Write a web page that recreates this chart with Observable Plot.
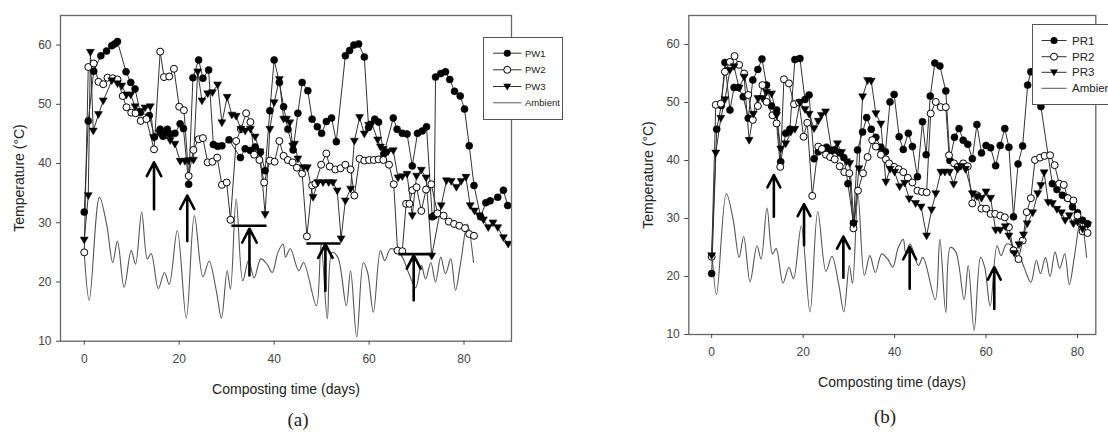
<!DOCTYPE html>
<html><head><meta charset="utf-8">
<script src="https://cdn.jsdelivr.net/npm/d3@7"></script>
<script src="https://cdn.jsdelivr.net/npm/@observablehq/plot@0.6"></script>
<style>
body{margin:0;background:#fff;}
#root{position:relative;width:1108px;height:432px;overflow:hidden;font-family:"Liberation Sans",Arial,sans-serif;color:#222;}
.abs{position:absolute;white-space:nowrap;}
.ttl{font-size:14px;transform:translate(-50%,-50%);}
.ytl{font-size:14px;transform:translate(-50%,-50%) rotate(-90deg);}
.cap{font-family:"Liberation Serif","DejaVu Serif",serif;font-size:19px;transform:translate(-50%,-50%);}
.leg{background:#fff;border:1px solid #555;box-sizing:border-box;}
</style></head><body><div id="root"></div>
<script>
// ---------- data (day, °C) ----------
const ambient = [[0,25.0],[1.06,16.9],[3.2,34.3],[4.7,29.8],[6.0,23.3],[7.0,26.9],[8.4,19.1],[9.9,25.3],[10.8,23.0],[12.1,31.8],[13.3,23.9],[14.1,24.8],[15.6,18.9],[16.9,21.6],[17.9,19.6],[19.6,28.7],[21.5,13.9],[23.2,31.2],[25.0,20.9],[26.3,23.5],[27.8,18.6],[28.9,13.9],[30.1,21.9],[30.8,18.8],[32.0,34.0],[33.4,20.2],[34.6,23.6],[35.8,20.7],[37.2,23.9],[38.5,23.0],[39.6,21.6],[40.8,25.0],[41.9,26.4],[42.4,24.2],[43.4,25.6],[45.2,21.9],[46.2,23.3],[48.9,16.0],[49.9,26.4],[51.2,13.8],[52.2,25.0],[53.4,24.2],[55.2,16.0],[56.1,21.9],[57.4,10.7],[58.8,23.3],[59.7,21.6],[60.9,14.9],[62.4,25.3],[63.3,23.6],[64.5,25.6],[65.8,25.3],[67.0,24.2],[68.4,21.4],[69.8,19.0],[71.0,22.8],[71.9,20.5],[73.0,23.3],[74.0,20.0],[75.1,24.2],[76.1,21.4],[77.2,23.9],[78.2,18.6],[79.3,23.3],[80.7,29.8],[82.0,23.3]];

const pw1 = [[0,31.8],[0.85,47.2],[2.0,55.6],[3.5,58.2],[4.7,59.0],[5.8,59.9],[6.4,60.2],[7.0,60.6],[8.8,55.5],[9.8,53.7],[10.7,52.6],[11.8,48.6],[13.7,48.1],[14.8,44.5],[16.0,45.8],[16.6,44.6],[17.5,45.8],[18.1,45.0],[19.1,45.1],[20.2,46.7],[20.9,45.9],[22.0,36.5],[22.9,54.5],[24.1,57.5],[25.0,54.4],[26.2,55.8],[27.2,43.2],[28.1,42.9],[29.0,43.0],[30.5,44.0],[32.9,41.0],[33.9,42.5],[35.0,42.2],[36.0,42.8],[37.1,41.9],[38.1,38.8],[39.1,48.9],[40.0,57.5],[41.1,53.7],[42.0,49.6],[42.9,45.8],[44.0,42.3],[45.0,48.5],[45.9,53.7],[47.1,52.3],[48.0,47.5],[49.1,46.2],[50.0,45.1],[51.0,47.1],[52.1,47.7],[53.1,43.7],[55.0,58.2],[55.9,59.1],[56.8,60.0],[57.8,60.2],[59.0,58.0],[59.9,46.1],[61.2,47.5],[62.0,47.0],[63.1,41.6],[65.1,47.7],[65.9,45.8],[67.0,45.1],[68.0,45.0],[69.1,39.6],[70.2,45.1],[71.2,45.5],[72.1,46.2],[73.3,31.0],[73.7,31.2],[74.0,54.6],[75.1,55.2],[76.1,55.5],[77.0,54.2],[78.0,52.2],[79.2,51.4],[80.1,49.2],[81.1,43.0],[82.1,36.3],[83.5,31.0],[84.6,33.4],[85.5,33.7],[87.1,34.3],[88.3,35.5],[89.2,32.9]];

const pw2 = [[0,25.0],[0.85,56.3],[2.0,56.9],[3.0,53.8],[4.0,53.4],[4.9,54.5],[6.0,54.4],[7.0,54.2],[8.1,51.4],[8.9,49.5],[9.9,48.6],[10.8,48.5],[11.9,47.2],[13.1,47.5],[14.7,42.4],[16.0,58.9],[16.8,54.6],[17.9,54.7],[18.9,56.0],[20.0,49.6],[21.0,49.0],[22.0,37.9],[23.0,42.3],[24.1,44.1],[25.0,44.3],[26.0,40.2],[27.0,40.3],[28.0,41.0],[29.0,36.4],[30.0,36.8],[30.8,30.5],[32.0,43.8],[33.0,45.8],[34.1,48.5],[35.0,47.0],[35.8,41.5],[36.9,40.6],[37.9,36.8],[39.1,40.5],[40.1,40.3],[41.1,43.8],[42.0,41.3],[42.9,40.6],[43.9,40.2],[44.8,39.3],[45.9,38.3],[46.9,27.7],[48.0,36.3],[48.7,36.6],[49.9,39.8],[51.0,41.7],[51.7,39.5],[52.9,39.0],[54.0,39.2],[55.0,39.8],[56.1,39.0],[56.9,34.6],[58.0,40.8],[59.0,40.5],[60.0,40.6],[61.0,40.6],[62.0,40.7],[63.0,40.6],[64.2,39.8],[65.2,36.5],[66.0,25.3],[67.0,25.2],[67.8,33.2],[68.5,33.2],[69.1,35.5],[70.0,36.0],[71.0,32.0],[72.0,35.6],[73.1,36.5],[74.4,31.6],[75.7,31.2],[76.8,30.2],[77.9,29.8],[79.0,29.5],[80.2,29.1],[81.1,28.1],[82.1,27.8]];

const pw3 = [[0,27.1],[0.85,34.6],[1.3,58.8],[1.9,45.5],[3.0,48.3],[4.0,50.6],[5.8,54.0],[7.0,53.5],[7.9,53.1],[8.9,51.6],[9.8,51.6],[10.7,49.6],[11.8,48.8],[12.8,49.4],[13.9,49.6],[14.6,44.4],[15.8,45.2],[17.0,45.0],[18.1,43.9],[19.1,43.3],[20.2,40.4],[21.2,40.4],[22.0,40.5],[23.0,40.6],[23.9,55.5],[24.8,50.6],[26.0,51.8],[27.0,52.0],[28.1,53.3],[29.0,46.9],[30.1,51.2],[31.1,48.2],[32.0,48.0],[33.0,45.8],[33.9,45.5],[35.0,45.8],[36.0,44.5],[37.0,42.0],[38.1,31.4],[39.1,45.8],[40.0,50.3],[41.1,54.2],[42.0,47.5],[42.6,47.5],[43.3,46.9],[43.9,43.0],[44.3,43.3],[45.0,40.8],[46.2,39.3],[47.0,39.3],[48.2,34.3],[49.2,36.8],[50.3,36.8],[51.5,36.8],[52.4,36.8],[53.3,35.4],[54.1,27.3],[55.0,33.7],[56.1,35.7],[56.9,43.8],[58.0,47.8],[59.0,45.0],[59.9,46.5],[60.6,46.7],[61.8,44.0],[62.4,42.8],[63.0,42.4],[64.0,42.0],[65.1,42.2],[66.1,37.6],[67.0,37.8],[68.0,38.2],[69.1,31.2],[70.0,37.9],[71.0,38.9],[72.0,37.6],[73.2,24.4],[75.2,32.9],[76.3,37.1],[77.3,37.0],[78.4,36.0],[79.4,37.0],[80.4,37.7],[81.3,32.9],[82.2,32.0],[83.2,31.2],[84.1,30.5],[85.1,29.2],[86.1,30.0],[87.1,29.2],[88.3,27.5],[89.3,26.4]];

const pr1 = [[0,20.5],[1.1,45.4],[2.1,49.5],[2.9,56.9],[4.0,48.7],[4.9,52.6],[5.8,52.6],[6.9,51.0],[8.0,47.3],[9.0,53.9],[10.1,55.7],[11.0,57.5],[12.0,53.0],[13.1,49.4],[14.2,48.7],[15.1,39.8],[16.2,44.7],[17.1,45.4],[18.2,57.4],[19.3,57.6],[20.4,50.5],[21.3,51.3],[22.4,40.3],[23.3,41.5],[24.2,42.0],[25.1,42.3],[26.0,41.5],[27.0,41.8],[28.0,41.3],[28.9,40.5],[29.8,36.0],[31.0,29.2],[31.9,41.8],[33.0,44.9],[33.9,47.4],[34.9,45.4],[35.9,44.0],[37.0,42.3],[38.0,41.5],[39.0,50.1],[39.9,51.4],[41.0,44.1],[41.9,41.9],[43.0,44.7],[43.9,42.4],[45.0,37.2],[46.1,46.7],[46.9,41.0],[47.8,51.1],[48.8,56.8],[49.9,56.3],[51.2,52.0],[52.1,40.0],[53.1,44.0],[54.1,45.5],[55.0,43.5],[56.0,42.8],[57.0,40.3],[58.0,46.2],[59.0,41.3],[60.0,42.6],[61.0,42.2],[62.1,39.1],[63.1,42.6],[64.1,45.5],[65.0,42.3],[66.0,30.3],[67.0,39.4],[68.0,42.5],[69.1,53.0],[69.8,55.3],[70.9,57.5],[72.0,49.3],[74.5,36.0],[75.5,35.0],[76.7,34.0],[77.8,33.5],[78.9,32.0],[80.0,31.0],[81.1,29.7],[82.2,29.1]];

const pr2 = [[0,23.4],[0.9,49.6],[2.0,49.8],[2.9,55.3],[4.0,57.0],[5.0,58.0],[6.0,56.5],[7.1,55.0],[8.0,51.3],[9.0,47.0],[10.1,49.4],[11.1,53.0],[12.0,50.1],[13.3,47.8],[14.2,46.4],[15.0,38.9],[15.8,54.0],[16.9,53.3],[18.0,49.7],[19.1,50.0],[20.1,44.1],[20.9,46.5],[22.0,33.9],[23.3,42.4],[24.1,42.0],[25.0,41.0],[25.9,40.6],[26.9,40.2],[28.0,39.0],[29.0,38.0],[30.1,37.8],[31.0,28.3],[32.0,34.8],[33.1,37.8],[34.1,40.6],[35.1,43.5],[35.9,42.4],[37.0,41.0],[38.1,40.2],[38.8,39.5],[39.9,38.9],[40.9,38.5],[41.9,38.0],[42.9,37.0],[43.9,36.2],[45.0,34.8],[46.0,34.6],[47.0,34.5],[47.9,48.1],[49.0,50.1],[50.1,49.2],[51.2,49.2],[51.9,40.9],[53.0,39.5],[53.8,38.9],[55.0,39.5],[56.0,39.0],[57.0,32.6],[58.0,34.0],[59.0,31.7],[60.0,31.7],[61.0,30.8],[62.0,30.8],[63.1,30.5],[64.1,30.2],[65.0,28.5],[66.0,24.5],[67.1,23.0],[68.0,26.2],[68.9,31.1],[69.8,33.5],[70.7,40.1],[71.8,40.5],[72.8,40.8],[74.0,40.9],[75.0,39.2],[76.0,36.0],[77.0,35.8],[77.9,33.5],[79.1,33.1],[80.0,30.5],[81.1,27.8],[82.2,27.5]];

const pr3 = [[0,23.6],[0.9,41.3],[2.0,47.3],[2.9,50.5],[4.0,55.6],[4.9,56.2],[6.0,52.5],[7.1,54.4],[8.2,43.5],[9.1,48.0],[10.1,50.7],[11.1,50.7],[12.0,51.8],[13.1,51.5],[14.2,47.8],[15.1,42.0],[16.2,42.9],[17.3,44.9],[18.2,45.4],[19.3,50.0],[20.4,48.8],[21.3,48.0],[22.4,45.5],[23.3,46.8],[24.0,47.8],[24.9,48.4],[26.2,41.9],[27.5,42.9],[28.4,41.4],[29.5,39.8],[30.2,39.5],[31.1,29.1],[32.2,38.6],[33.0,51.0],[34.1,53.8],[34.9,53.7],[35.9,48.1],[37.0,46.3],[38.1,36.3],[39.0,38.5],[40.0,38.0],[41.1,35.5],[42.2,36.1],[43.2,33.4],[44.6,32.6],[45.8,32.0],[47.0,27.0],[48.1,31.5],[49.0,34.3],[50.1,38.0],[51.0,38.0],[52.0,38.0],[52.9,35.9],[53.8,38.5],[54.5,39.0],[55.5,38.5],[57.0,34.3],[58.0,33.8],[59.0,33.5],[60.0,34.6],[61.0,33.5],[62.1,28.0],[63.1,28.0],[64.2,28.6],[65.0,27.0],[66.2,24.0],[67.2,25.5],[68.2,27.2],[69.0,29.1],[70.2,31.0],[71.3,34.3],[72.0,35.7],[72.7,37.9],[73.6,32.8],[74.5,32.6],[75.5,31.6],[76.5,31.0],[77.3,29.7],[78.2,30.5],[79.1,29.1],[80.0,29.4],[81.1,28.2],[82.2,28.9]];

// turning arrows / sampling bars
const arrowDayA = [14.7, 21.7, 34.8, 50.8, 69.4];
const arrowBaseA = [32.3, 26.9, 21.1, 18.5, 16.9];
const arrowTipA = [40.2, 34.6, 29.0, 26.4, 24.5];
const barTempA = [29.5, 26.5, 24.7];
const barStartA = [31.1, 46.9, 66.3];
const barEndA = [38.5, 54.1, 73.7];
const arrowDayB = [13.6, 20.2, 28.8, 43.3, 61.8];
const arrowBaseB = [30.3, 25.4, 19.8, 17.9, 14.4];
const arrowTipB = [37.5, 32.5, 26.9, 25.1, 21.6];

const xTicks = [0, 20, 40, 60, 80];
const yTicks = [10, 20, 30, 40, 50, 60];
const namesA = ["PW1", "PW2", "PW3", "Ambient"];
const namesB = ["PR1", "PR2", "PR3", "Ambient"];

// ---------- drawing ----------
const triDown = {draw(ctx, size) {
  const s = Math.sqrt(size);
  ctx.moveTo(-0.64 * s, -0.46 * s);
  ctx.lineTo(0.64 * s, -0.46 * s);
  ctx.lineTo(0, 0.64 * s);
  ctx.closePath();
}};
const R = 3.5;
const fx = d => d[0], fy = d => d[1];

function panel(opts) {
  const [s1, s2, s3] = opts.series;
  const arrows = opts.arrowDay.map((d, i) => ({x: d, y1: opts.arrowBase[i], y2: opts.arrowTip[i]}));
  const bars = (opts.barTemp || []).map((t, i) => ({y: t, x1: opts.barStart[i], x2: opts.barEnd[i]}));
  return Plot.plot({
    width: opts.width, height: 432,
    marginTop: 15, marginLeft: opts.ml, marginRight: opts.mr, marginBottom: opts.mb,
    style: {fontFamily: '"Liberation Sans", Arial, sans-serif', background: "transparent", overflow: "visible"},
    x: {domain: opts.xDomain},
    y: {domain: [10, 65]},
    marks: [
      Plot.line(ambient, {x: fx, y: fy, curve: "catmull-rom", stroke: "#555", strokeWidth: 1.1}),
      Plot.line(s1, {x: fx, y: fy, stroke: "#333", strokeWidth: 1}),
      Plot.line(s2, {x: fx, y: fy, stroke: "#333", strokeWidth: 1}),
      Plot.line(s3, {x: fx, y: fy, stroke: "#333", strokeWidth: 1}),
      Plot.dot(s1, {x: fx, y: fy, r: R, fill: "#000", stroke: "#000", strokeWidth: 0.6}),
      Plot.dot(s2, {x: fx, y: fy, r: R, fill: "#fff", stroke: "#000", strokeWidth: 1}),
      Plot.dot(s3, {x: fx, y: fy, r: R, symbol: triDown, fill: "#000", stroke: "#000", strokeWidth: 0.5}),
      Plot.ruleY(bars, {y: "y", x1: "x1", x2: "x2", stroke: "#000", strokeWidth: 2.6}),
      Plot.arrow(arrows, {x1: "x", x2: "x", y1: "y1", y2: "y2", stroke: "#000", strokeWidth: 2.6, headLength: 12, headAngle: 55}),
      Plot.frame({stroke: "#666", strokeWidth: 1.3}),
      Plot.axisX({ticks: xTicks, tickSize: 4, tickPadding: 9, fontSize: 12, label: null, color: "#444"}),
      Plot.axisY({ticks: yTicks, tickSize: 4, tickPadding: 5, fontSize: 12, label: null, color: "#444"})
    ]
  });
}

const root = document.getElementById("root");
function place(el, left, top) { el.style.position = "absolute"; el.style.left = left + "px"; el.style.top = top + "px"; root.appendChild(el); }

place(panel({series: [pw1, pw2, pw3], xDomain: [-5, 90], width: 560, ml: 60, mr: 49, mb: 91.3,
  arrowDay: arrowDayA, arrowBase: arrowBaseA, arrowTip: arrowTipA,
  barTemp: barTempA, barStart: barStartA, barEnd: barEndA}), 0, 0);
place(panel({series: [pr1, pr2, pr3], xDomain: [-5, 84], width: 548, ml: 128.3, mr: 12.7, mb: 98,
  arrowDay: arrowDayB, arrowBase: arrowBaseB, arrowTip: arrowTipB}), 560, 0);

function label(text, cls, x, y) {
  const d = document.createElement("div");
  d.className = "abs " + cls; d.textContent = text;
  d.style.left = x + "px"; d.style.top = y + "px";
  root.appendChild(d);
}
label("Temperature (°C)", "ytl", 19, 178);
label("Temperature (°C)", "ytl", 648, 175);
label("Composting time (days)", "ttl", 286, 389);
label("Composting time (days)", "ttl", 892, 382);
label("(a)", "cap", 298, 420);
label("(b)", "cap", 885, 417);

function legend(names, left, top, w, h, rowY, lx0, lx1, tx, fs) {
  const div = document.createElement("div");
  div.className = "abs leg";
  Object.assign(div.style, {left: left + "px", top: top + "px", width: w + "px", height: h + "px"});
  const svg = d3.create("svg").attr("width", w).attr("height", h).style("position", "absolute").style("left", "-1px").style("top", "-1px");
  names.forEach((n, i) => {
    const y = rowY[i];
    svg.append("line").attr("x1", lx0).attr("x2", lx1).attr("y1", y).attr("y2", y).attr("stroke", i === 3 ? "#555" : "#333").attr("stroke-width", 1);
    const cx = (lx0 + lx1) / 2;
    if (i === 0) svg.append("circle").attr("cx", cx).attr("cy", y).attr("r", R).attr("fill", "#000");
    if (i === 1) svg.append("circle").attr("cx", cx).attr("cy", y).attr("r", R).attr("fill", "#fff").attr("stroke", "#000");
    if (i === 2) { const p = d3.path(); triDown.draw(p, R * R * Math.PI); svg.append("path").attr("d", p.toString()).attr("transform", `translate(${cx},${y})`).attr("fill", "#000"); }
    svg.append("text").attr("x", tx).attr("y", y).attr("dy", "0.35em").attr("font-size", fs).attr("fill", "#222")
      .attr("font-family", '"Liberation Sans", Arial, sans-serif').text(n);
  });
  div.appendChild(svg.node());
  root.appendChild(div);
}
legend(namesA, 482.5, 36.5, 80, 83, [16.2, 32.8, 49.5, 65.8], 10, 38.5, 42, 9.5);
legend(namesB, 1031.7, 24, 110, 81, [16.5, 32.7, 48.3, 64.3], 9.5, 34.5, 40, 11.5);
</script></body></html>
